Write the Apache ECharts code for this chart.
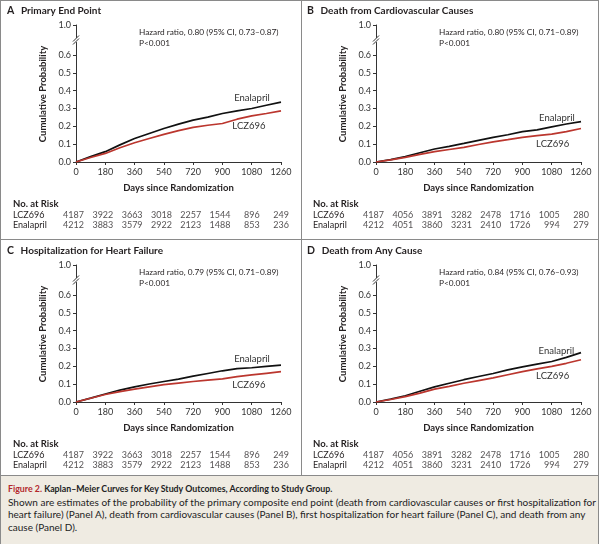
<!DOCTYPE html>
<html>
<head>
<meta charset="utf-8">
<title>Kaplan-Meier Curves</title>
<script src="https://cdn.jsdelivr.net/npm/echarts@6.0.0/dist/echarts.min.js"></script>
<style>
  body { margin: 0; background: #fff; font-family: Lato, sans-serif; }
  .box { position: absolute; left: 0; top: 0; width: 597px; height: 542px; border: 1px solid #8a8a8a; }
  .vline { position: absolute; left: 301px; top: 0; width: 1px; height: 475px; background: #8a8a8a; }
  .hline { position: absolute; left: 0; top: 239px; width: 598px; height: 1px; background: #8a8a8a; }
  .panel { position: absolute; width: 300px; height: 238px; }
  .caption {
    position: absolute; left: 1px; top: 475px; width: 583px; height: 55px;
    padding: 6px 7px 7px 7px; background: #efebe2; border-top: 1px solid #8a8a8a;
    font-size: 10px; line-height: 12.6px; color: #222; white-space: nowrap; overflow: hidden;
  }
  .caption .head { font-size: 8.8px; font-weight: bold; }
  .caption .fig { color: #b3282d; }
</style>
</head>
<body>
<div class="box"></div>
<div class="vline"></div>
<div class="hline"></div>
<div class="panel" id="panelA" style="left:0;top:0"></div>
<div class="panel" id="panelB" style="left:300px;top:0"></div>
<div class="panel" id="panelC" style="left:0;top:240px"></div>
<div class="panel" id="panelD" style="left:300px;top:240px"></div>
<div class="caption">
  <span class="head"><span class="fig">Figure 2.</span> Kaplan–Meier Curves for Key Study Outcomes, According to Study Group.</span><br>
  Shown are estimates of the probability of the primary composite end point (death from cardiovascular causes or first hospitalization for<br>
  heart failure) (Panel A), death from cardiovascular causes (Panel B), first hospitalization for heart failure (Panel C), and death from any<br>
  cause (Panel D).
</div>
<script>
const days = [0, 90, 180, 270, 360, 450, 540, 630, 720, 810, 900, 990, 1080, 1170, 1260];

// cumulative probability, per panel
const enalaprilA = [0, 0.030, 0.058, 0.096, 0.132, 0.160, 0.188, 0.212, 0.235, 0.252, 0.272, 0.287, 0.300, 0.318, 0.336];
const lcz696A    = [0, 0.025, 0.048, 0.080, 0.108, 0.132, 0.155, 0.176, 0.194, 0.206, 0.216, 0.240, 0.259, 0.272, 0.287];
const enalaprilB = [0, 0.013, 0.030, 0.052, 0.073, 0.088, 0.104, 0.121, 0.138, 0.153, 0.170, 0.180, 0.197, 0.213, 0.226];
const lcz696B    = [0, 0.012, 0.026, 0.043, 0.058, 0.070, 0.082, 0.098, 0.113, 0.125, 0.138, 0.148, 0.156, 0.170, 0.188];
const enalaprilC = [0, 0.022, 0.045, 0.067, 0.085, 0.101, 0.115, 0.128, 0.145, 0.160, 0.175, 0.187, 0.192, 0.200, 0.207];
const lcz696C    = [0, 0.021, 0.042, 0.058, 0.072, 0.085, 0.097, 0.106, 0.115, 0.123, 0.130, 0.142, 0.152, 0.161, 0.170];
const enalaprilD = [0, 0.016, 0.035, 0.060, 0.085, 0.105, 0.125, 0.143, 0.160, 0.180, 0.197, 0.212, 0.227, 0.250, 0.277];
const lcz696D    = [0, 0.014, 0.030, 0.050, 0.072, 0.088, 0.105, 0.120, 0.135, 0.153, 0.170, 0.186, 0.200, 0.217, 0.237];

// numbers at risk
const riskDays = [0, 180, 360, 540, 720, 900, 1080, 1260];
const riskLczAC = [4187, 3922, 3663, 3018, 2257, 1544, 896, 249];
const riskEnaAC = [4212, 3883, 3579, 2922, 2123, 1488, 853, 236];
const riskLczBD = [4187, 4056, 3891, 3282, 2478, 1716, 1005, 280];
const riskEnaBD = [4212, 4051, 3860, 3231, 2410, 1726, 994, 279];

// y ticks: lower part of the broken axis, and the single top tick
const yTicksLow = [0, 0.1, 0.2, 0.3, 0.4, 0.5, 0.6];
const yTicksTop = [1.0];

const groups = ['LCZ696', 'Enalapril'];
const letters = ['A', 'B', 'C', 'D'];
const titles = ['Primary End Point', 'Death from Cardiovascular Causes', 'Hospitalization for Heart Failure', 'Death from Any Cause'];
const hazards = [
  'Hazard ratio, 0.80 (95% CI, 0.73–0.87)',
  'Hazard ratio, 0.80 (95% CI, 0.71–0.89)',
  'Hazard ratio, 0.79 (95% CI, 0.71–0.89)',
  'Hazard ratio, 0.84 (95% CI, 0.76–0.93)'
];
const pValue = 'P<0.001';

const curves = [
  [enalaprilA, lcz696A], [enalaprilB, lcz696B], [enalaprilC, lcz696C], [enalaprilD, lcz696D]
];
const risks = [[riskLczAC, riskEnaAC], [riskLczBD, riskEnaBD], [riskLczAC, riskEnaAC], [riskLczBD, riskEnaBD]];

// where the curve names sit, in data coordinates
const enaLabelAt = [[1082, 0.358], [1112, 0.246], [1082, 0.243], [1109, 0.289]];
const lczLabelAt = [[1063, 0.200], [1086, 0.100], [1063, 0.097], [1086, 0.144]];

const INK = '#231f20';
const AXIS = '#333';
const RED = '#bb362e';
const FONT = 'Lato';

function curveLabel(pos, text) {
  return {
    symbol: 'circle', symbolSize: 0,
    label: { show: true, position: 'inside', color: '#333', fontSize: 9.5, fontFamily: FONT, formatter: text },
    data: [{ coord: pos }]
  };
}

function yAxisPart(gridIndex, min, max, ticks) {
  return {
    gridIndex, type: 'value', min, max,
    axisLine: { show: true, lineStyle: { color: AXIS, width: 1 } },
    axisTick: { show: true, length: 3, customValues: ticks, lineStyle: { color: AXIS } },
    axisLabel: { fontSize: 9, color: AXIS, margin: 5, fontFamily: FONT, customValues: ticks, formatter: v => v.toFixed(1) },
    splitLine: { show: false }
  };
}

function buildPanel(id, i) {
  const chart = echarts.init(document.getElementById(id));
  const [ena, lcz] = curves[i];
  const [rLcz, rEna] = risks[i];

  const riskData = [];
  riskDays.forEach((d, k) => {
    riskData.push([d, 0, rLcz[k]]);
    riskData.push([d, 1, rEna[k]]);
  });

  const option = {
    animation: false,
    textStyle: { fontFamily: FONT, color: INK },
    grid: [
      { left: 76, top: 42.5, width: 205, height: 119.5 },  // 0 .. 0.67
      { left: 76, top: 25, width: 205, height: 12.5 },     // 0.93 .. 1.0
      { left: 76, top: 210, width: 205, height: 20 }       // numbers at risk
    ],
    xAxis: [
      {
        gridIndex: 0, type: 'value', min: 0, max: 1260, interval: 180,
        name: 'Days since Randomization', nameLocation: 'middle', nameGap: 21,
        nameTextStyle: { fontSize: 9.5, fontWeight: 'bold', color: INK, fontFamily: FONT },
        axisLine: { show: true, lineStyle: { color: AXIS, width: 1 } },
        axisTick: { show: true, length: 3, lineStyle: { color: AXIS } },
        axisLabel: { fontSize: 9, color: AXIS, margin: 6, fontFamily: FONT, formatter: v => String(v) },
        splitLine: { show: false }
      },
      { gridIndex: 1, type: 'value', min: 0, max: 1260, show: false },
      { gridIndex: 2, type: 'value', min: 0, max: 1260, show: false }
    ],
    yAxis: [
      yAxisPart(0, 0, 0.67, yTicksLow),
      yAxisPart(1, 0.93, 1.0, yTicksTop),
      {
        gridIndex: 2, type: 'category', data: groups, inverse: true,
        axisLine: { show: false }, axisTick: { show: false },
        axisLabel: { interval: 0, align: 'left', margin: 63, fontSize: 9, color: INK, fontFamily: FONT }
      }
    ],
    series: [
      {
        name: 'Enalapril', type: 'line', xAxisIndex: 0, yAxisIndex: 0,
        data: days.map((d, k) => [d, ena[k]]),
        showSymbol: false, lineStyle: { color: '#111', width: 1.7 },
        markPoint: curveLabel(enaLabelAt[i], 'Enalapril')
      },
      {
        name: 'LCZ696', type: 'line', xAxisIndex: 0, yAxisIndex: 0,
        data: days.map((d, k) => [d, lcz[k]]),
        showSymbol: false, lineStyle: { color: RED, width: 1.7 },
        markPoint: curveLabel(lczLabelAt[i], 'LCZ696')
      },
      {
        name: 'No. at Risk', type: 'scatter', xAxisIndex: 2, yAxisIndex: 2,
        data: riskData, symbolSize: 1, itemStyle: { color: 'rgba(0,0,0,0)' },
        label: {
          show: true, position: 'inside', align: 'right', offset: [8, 0],
          fontSize: 9, color: INK, fontFamily: FONT,
          formatter: p => p.value[2]
        }
      }
    ],
    graphic: [
      {
        type: 'text', left: 7, top: 5,
        style: {
          text: '{l|' + letters[i] + '}  {t|' + titles[i] + '}',
          rich: {
            l: { fontSize: 10.5, fontWeight: 'bold', fontFamily: FONT, fill: INK },
            t: { fontSize: 10, fontWeight: 'bold', fontFamily: FONT, fill: INK }
          }
        }
      },
      {
        type: 'text', x: 139, y: 32,
        style: { text: hazards[i], fontSize: 8.3, fontFamily: FONT, fill: INK, verticalAlign: 'middle' }
      },
      {
        type: 'text', x: 139, y: 43,
        style: { text: pValue, fontSize: 8.3, fontFamily: FONT, fill: INK, verticalAlign: 'middle' }
      },
      {
        type: 'text', x: 43, y: 94, rotation: Math.PI / 2,
        style: {
          text: 'Cumulative Probability', fontSize: 9.5, fontWeight: 'bold', fontFamily: FONT,
          fill: INK, align: 'center', verticalAlign: 'middle'
        }
      },
      {
        type: 'text', x: 13, y: 204,
        style: { text: 'No. at Risk', fontSize: 9.5, fontWeight: 'bold', fontFamily: FONT, fill: INK, verticalAlign: 'middle' }
      },
      // axis break mark
      { type: 'line', shape: { x1: 73, y1: 41.5, x2: 79, y2: 35.5 }, style: { stroke: AXIS, lineWidth: 1 }, z: 101 },
      { type: 'line', shape: { x1: 73, y1: 44.5, x2: 79, y2: 38.5 }, style: { stroke: AXIS, lineWidth: 1 }, z: 101 }
    ]
  };

  chart.setOption(option);
  return chart;
}

const charts = ['panelA', 'panelB', 'panelC', 'panelD'].map((id, i) => buildPanel(id, i));
window.addEventListener('resize', () => charts.forEach(c => c.resize()));
</script>
</body>
</html>
